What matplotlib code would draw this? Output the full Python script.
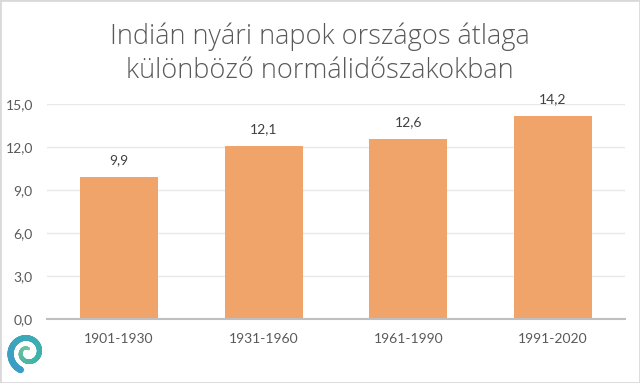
import numpy as np
import matplotlib.pyplot as plt
from matplotlib.patches import Rectangle
from matplotlib.colors import LinearSegmentedColormap

periods = ['1901-1930', '1931-1960', '1961-1990', '1991-2020']
values = [9.9, 12.1, 12.6, 14.2]
yticks = [0, 3, 6, 9, 12, 15]

plt.rcParams['font.family'] = ['Lato', 'DejaVu Sans']

fig = plt.figure(figsize=(6.4, 3.83), dpi=100)
ax = fig.add_axes([0.073, 0.167, 0.904, 0.561])

x = np.arange(len(periods))
ax.bar(x, values, width=0.54, color='#F0A46A', zorder=2)
for xi, v in zip(x, values):
    ax.text(xi, v + 0.75, f'{v:.1f}'.replace('.', ','), ha='center', va='bottom',
            fontsize=10, color='#404040')

ax.set_xlim(-0.5, len(periods) - 0.5)
ax.set_ylim(0, 15)
ax.set_yticks(yticks)
ax.set_yticklabels([f'{t:.1f}'.replace('.', ',') for t in yticks])
ax.set_xticks(x)
ax.set_xticklabels(periods)
ax.tick_params(axis='both', length=0, labelsize=10, colors='#595959')
ax.tick_params(axis='y', pad=10)
ax.tick_params(axis='x', pad=10)
ax.grid(axis='y', color='#E8E8E8', linewidth=1, zorder=0)
for s in ['top', 'right', 'left']:
    ax.spines[s].set_visible(False)
ax.spines['bottom'].set_color('#BFBFBF')
ax.spines['bottom'].set_linewidth(1.5)

title_font = dict(ha='center', va='center', fontsize=19.5, color='#595959',
                  family=['Open Sans', 'DejaVu Sans'], fontweight='light')
fig.text(0.5, 0.905, 'Indián nyári napok országos átlaga', **title_font)
fig.text(0.5, 0.815, 'különböző normálidőszakokban', **title_font)

# small swirl logo, bottom left
lax = fig.add_axes([0.008, 0.02, 0.07, 0.12])
swirl = LinearSegmentedColormap.from_list('swirl', ['#7CC79A', '#3FB3A8', '#3A9CC8'])
t = np.linspace(0, 3.0 * np.pi, 300)
r = 0.08 + 0.34 * t / (3.0 * np.pi)
lax.scatter(r * np.cos(t + 1.2), r * np.sin(t + 1.2), c=t, cmap=swirl,
            s=np.linspace(3, 22, 300), linewidths=0)
lax.set_xlim(-0.5, 0.5)
lax.set_ylim(-0.5, 0.5)
lax.set_aspect('equal')
lax.axis('off')

fig.patches.append(Rectangle((0, 0), 1, 1, transform=fig.transFigure, fill=False,
                             edgecolor='#D9D9D9', linewidth=2))

fig.savefig('out.png', dpi=100)
